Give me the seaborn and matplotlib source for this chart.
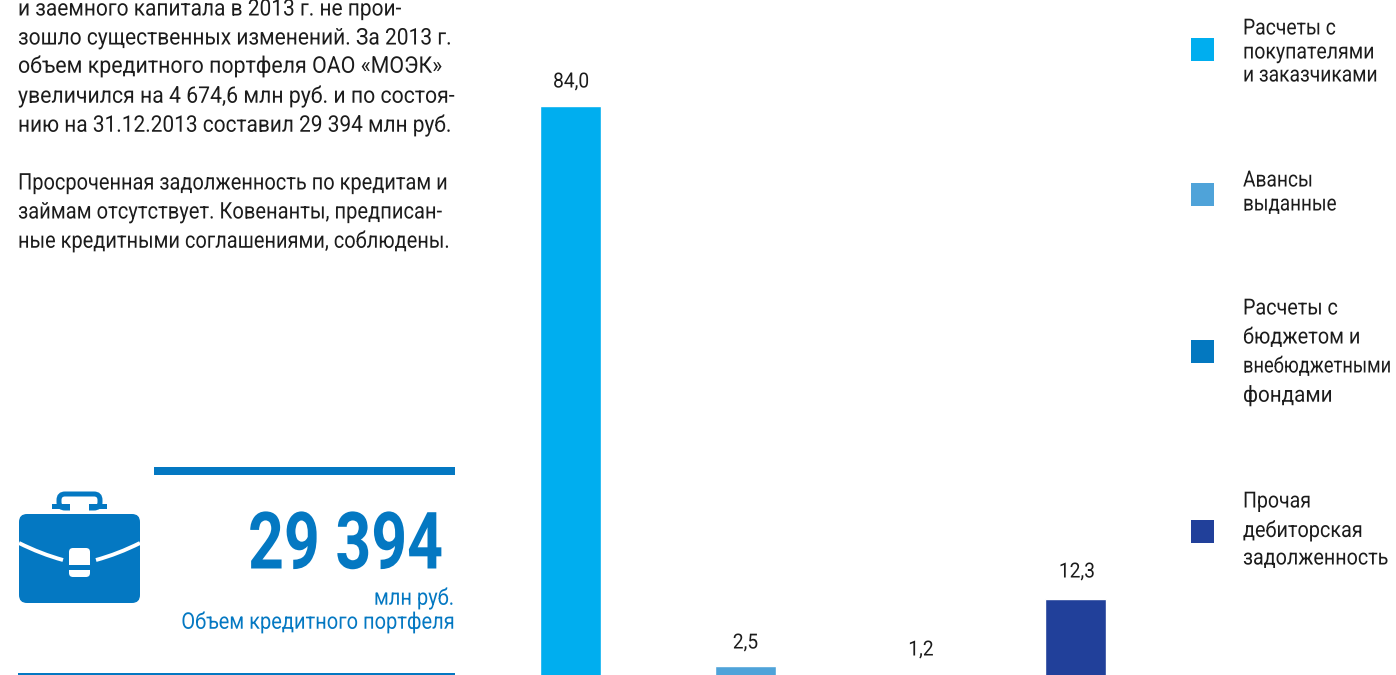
import matplotlib
matplotlib.use("Agg")
import matplotlib.pyplot as plt
import matplotlib.patheffects as pe
import pandas as pd
import seaborn as sns
from matplotlib.patches import FancyBboxPatch, PathPatch, Rectangle
from matplotlib.path import Path
from matplotlib.transforms import Affine2D

# ── Data ─────────────────────────────────────────────────────────────────────
CATEGORIES = ["Расчеты с покупателями и заказчиками", "Авансы выданные",
              "Расчеты с бюджетом и внебюджетными фондами",
              "Прочая дебиторская задолженность"]
VALUES = [84.0, 2.5, 1.2, 12.3]
VALUE_LABELS = ["84,0", "2,5", "1,2", "12,3"]
LEGEND_LINES = [["Расчеты с", "покупателями", "и заказчиками"],
                ["Авансы", "выданные"],
                ["Расчеты с", "бюджетом и", "внебюджетными", "фондами"],
                ["Прочая", "дебиторская", "задолженность"]]
BODY_LINES = ["и заемного капитала в 2013 г. не прои-",
              "зошло существенных изменений. За 2013 г.",
              "объем кредитного портфеля ОАО «МОЭК»",
              "увеличился на 4 674,6 млн руб. и по состоя-",
              "нию на 31.12.2013 составил 29 394 млн руб.",
              "Просроченная задолженность по кредитам и",
              "займам отсутствует. Ковенанты, предписан-",
              "ные кредитными соглашениями, соблюдены."]
KPI_VALUE = "29 394"
KPI_UNIT = "млн руб."
KPI_NAME = "Объем кредитного портфеля"

# ── Layout (pixels of the 1396x675 page) ─────────────────────────────────────
COLORS = ["#00aeef", "#4fa3d9", "#0378c0", "#21409a"]
BLUE = "#0478c2"
DARK = "#1c1c1c"
BAR_CENTERS = [570.5, 745.5, 920.5, 1075.5]
BAR_WIDTH = 61
LABEL_X = [571, 745.5, 921, 1077]
LABEL_Y = [82, 643, 650, 572]
BODY_Y = [9, 38, 66, 96, 125, 183, 212, 241]
BODY_RIGHT = [400, 450, 441, 453, 450, 446, 441, 448]  # the source text is justified
SWATCH_TOP = [38, 183, 340, 520]
LEGEND_Y = [[29, 53, 76], [181, 205], [309, 338, 367, 396], [502, 531, 559]]
LEGEND_RIGHT = [[1336, 1375, 1378], [1313, 1337], [1338, 1361, 1392, 1333], [1311, 1363, 1389]]
NARROW = 0.875

sns.set_theme(style="white")
plt.rcParams["font.family"] = ["Roboto", "DejaVu Sans"]

fig = plt.figure(figsize=(13.96, 6.75), dpi=100)
renderer = fig.canvas.get_renderer()


class Condense(pe.AbstractPathEffect):
    # squeeze glyphs horizontally around x0 (no condensed font is installed)
    def __init__(self, x0, scale):
        super().__init__()
        self.x0, self.scale = x0, scale

    def draw_path(self, renderer, gc, tpath, affine, rgbFace=None):
        squeeze = Affine2D().translate(-self.x0, 0).scale(self.scale, 1).translate(self.x0, 0)
        renderer.draw_path(gc, tpath, affine + squeeze, rgbFace)


def narrow_text(a, x, y, s, ha, size, color, scale=NARROW, right=None, **kw):
    t = a.text(x, y, s, ha=ha, va="center", fontsize=size, color=color, **kw)
    if right is not None:
        scale = (right - x) / t.get_window_extent(renderer).width
    anchor = x
    if ha == "left":
        # a line whose full box would leave the page gets anchored at its right end
        width = t.get_window_extent(renderer).width
        if x + width > 1396:
            anchor = x + width * scale
            t.set_ha("right")
            t.set_x(anchor)
    t.set_path_effects([Condense(anchor, scale)])
    return t


# bars: x axis runs in page pixels, y axis in chart values
ax = fig.add_axes([0, 0, 1, 1])
df = pd.DataFrame({"center": BAR_CENTERS, "value": VALUES, "category": CATEGORIES})
sns.barplot(data=df, x="center", y="value", hue="category", hue_order=CATEGORIES,
            palette=COLORS, native_scale=True, dodge=False, legend=False,
            width=BAR_WIDTH / (BAR_CENTERS[3] - BAR_CENTERS[2]), saturation=1, ax=ax)
ax.set_xlim(0, 1396)
ax.set_ylim(1.2, 1.2 + 675 / 6.87)
ax.axis("off")

# overlay in page pixels for text, swatches and the icon
page = fig.add_axes([0, 0, 1, 1], facecolor="none")
page.set_xlim(0, 1396)
page.set_ylim(675, 0)
page.axis("off")

for x, y, label in zip(LABEL_X, LABEL_Y, VALUE_LABELS):
    narrow_text(page, x, y, label, "center", 15, DARK, scale=0.92)

for y, line, right in zip(BODY_Y, BODY_LINES, BODY_RIGHT):
    narrow_text(page, 18, y, line, "left", 16.5, DARK, right=right)

for top, color, lines, ys, rights in zip(SWATCH_TOP, COLORS, LEGEND_LINES, LEGEND_Y, LEGEND_RIGHT):
    page.add_patch(Rectangle((1191, top), 23, 23, color=color, lw=0))
    for y, line, right in zip(ys, lines, rights):
        narrow_text(page, 1243, y, line, "left", 16, DARK, right=right)

# KPI block
page.add_patch(Rectangle((154, 467), 301, 7.5, color=BLUE, lw=0))
page.add_patch(Rectangle((18, 672.5), 437, 2.5, color=BLUE, lw=0))
narrow_text(page, 443, 547, KPI_VALUE, "right", 57, BLUE, scale=0.79, fontweight="bold")
narrow_text(page, 454, 598, KPI_UNIT, "right", 16.5, BLUE)
narrow_text(page, 454, 622, KPI_NAME, "right", 16.5, BLUE)


def draw_briefcase(a):
    # handle
    a.add_patch(FancyBboxPatch((59, 494), 41, 14, boxstyle="round,pad=0,rounding_size=6",
                               fc="none", ec=BLUE, lw=3.6))
    a.add_patch(Rectangle((52, 504), 18, 5, color=BLUE, lw=0))
    a.add_patch(Rectangle((89, 504), 18, 5, color=BLUE, lw=0))
    a.add_patch(Rectangle((70, 503), 19, 8, color="white", lw=0))
    # body
    a.add_patch(FancyBboxPatch((19, 514), 121, 89, boxstyle="round,pad=0,rounding_size=8",
                               fc=BLUE, ec="none"))
    # flap lines
    for x0, x1 in [(19, 63), (140, 96)]:
        curve = Path([(x0, 543), ((x0 + x1) / 2, 554), (x1, 560)],
                     [Path.MOVETO, Path.CURVE3, Path.CURVE3])
        a.add_patch(PathPatch(curve, fc="none", ec="white", lw=2.8, capstyle="butt"))
    # clasp
    a.add_patch(FancyBboxPatch((69, 548), 21, 29, boxstyle="round,pad=0,rounding_size=4",
                               fc="white", ec="none"))
    a.add_patch(Rectangle((69, 565), 21, 5, color=BLUE, lw=0))


draw_briefcase(page)

fig.savefig("out.png", dpi=100)
